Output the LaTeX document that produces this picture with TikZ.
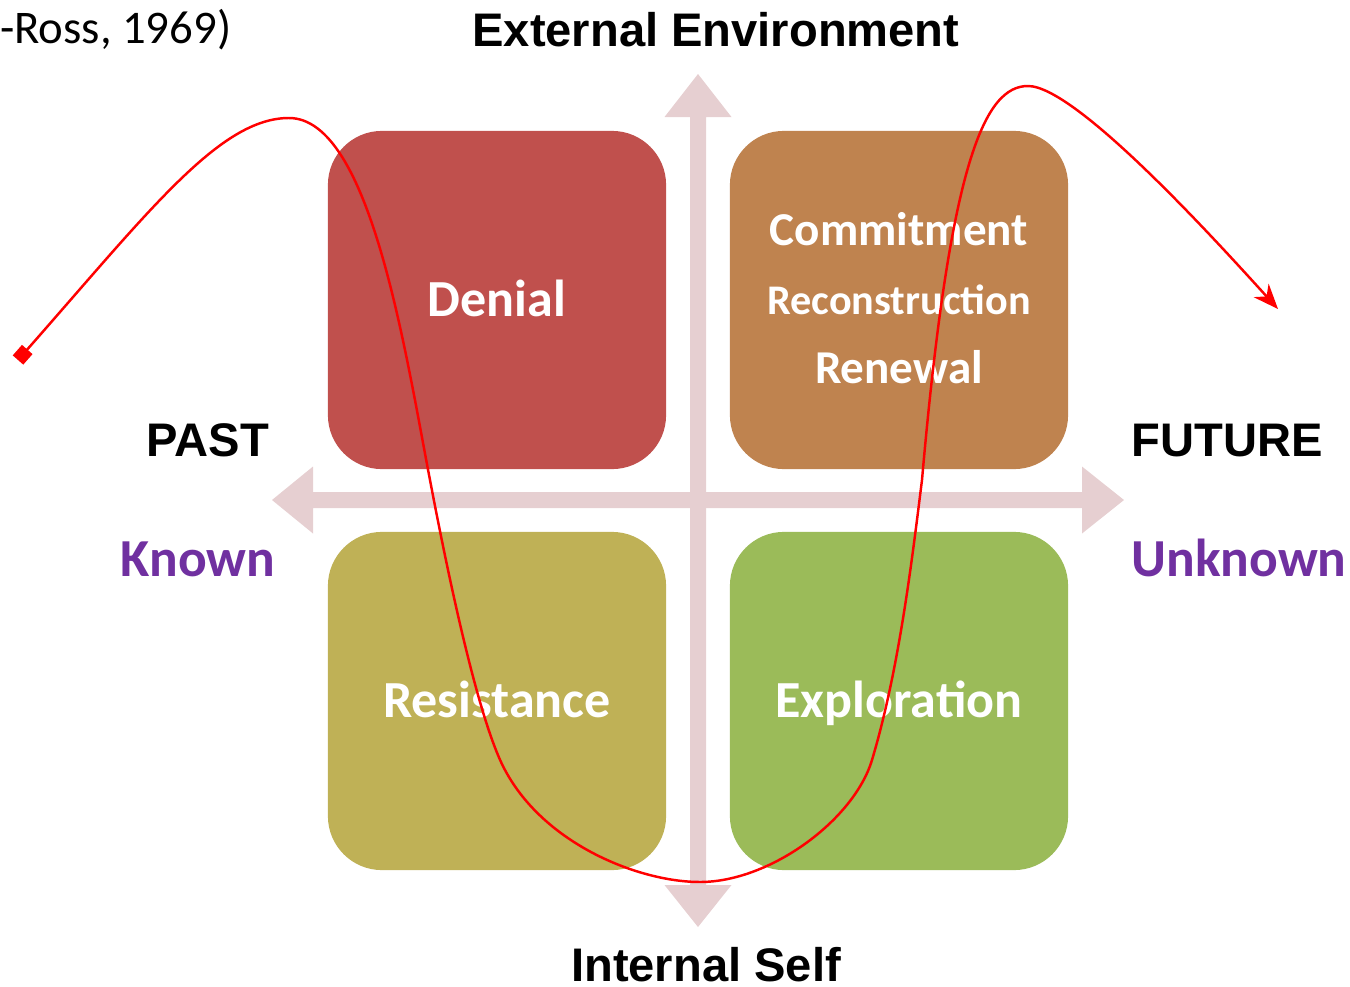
\documentclass[tikz,border=0pt]{standalone}
\usepackage{fontspec}
\setmainfont{Carlito}
\newfontfamily\headfont{Liberation Sans}
\usetikzlibrary{arrows.meta}
\definecolor{denialred}{HTML}{C0504D}
\definecolor{commitbrown}{HTML}{BF834F}
\definecolor{resistolive}{HTML}{BFB156}
\definecolor{explgreen}{HTML}{9BBB59}
\definecolor{axispink}{HTML}{E6CFD1}
\definecolor{knownpurple}{HTML}{7030A0}

\begin{document}
\begin{tikzpicture}[x=0.01cm,y=-0.01cm,
    quad/.style={rounded corners=0.54cm,minimum width=3.38cm,minimum height=3.38cm,inner sep=0pt},
    quadtext/.style={text=white,anchor=base,font=\bfseries\fontsize{14.8}{17}\selectfont},
    headlabel/.style={anchor=base,font=\headfont\bfseries\fontsize{13.4}{16}\selectfont},
    sidelabel/.style={anchor=base,text=knownpurple,font=\bfseries\fontsize{15.2}{18}\selectfont}]
        \useasboundingbox (0,0) rectangle (1350,987);
        \fill[axispink] (698,74) -- (731.5,117) -- (706,117) -- (706,885) -- (731.5,885) -- (698,927)
            -- (664.5,885) -- (690,885) -- (690,117) -- (664.5,117) -- cycle;
        \fill[axispink] (272,500) -- (313,466.5) -- (313,492) -- (1082,492) -- (1082,466.5) -- (1124,500)
            -- (1082,533.5) -- (1082,508) -- (313,508) -- (313,533.5) -- cycle;
        \node[quad,fill=denialred] (denial) at (497,300) {};
        \node[quad,fill=commitbrown] (commit) at (899,300) {};
        \node[quad,fill=resistolive] (resist) at (497,701) {};
        \node[quad,fill=explgreen] (explore) at (899,701) {};
        \node[quadtext] (denialtxt) at (497,316) {Denial};
        \node[quadtext,font=\bfseries\fontsize{13.4}{16}\selectfont] (committxt) at (899,245) {Commitment};
        \node[quadtext,font=\bfseries\fontsize{12}{14}\selectfont] (recontxt) at (899,314) {Reconstruction};
        \node[quadtext,font=\bfseries\fontsize{13.4}{16}\selectfont] (renewtxt) at (899,383) {Renewal};
        \node[quadtext] (resisttxt) at (497,717) {Resistance};
        \node[quadtext] (exploretxt) at (899,717) {Exploration};
        \node[headlabel] (external) at (716,46) {External Environment};
        \node[headlabel] (internal) at (706,981) {Internal Self};
        \node[headlabel] (past) at (208,456) {PAST};
        \node[headlabel] (future) at (1227,456) {FUTURE};
        \node[sidelabel] (known) at (198,576) {Known};
        \node[sidelabel] (unknown) at (1239,576) {Unknown};
        \node[anchor=base east,inner sep=0pt,font=\fontsize{13.3}{16}\selectfont] (cite) at (232,43) {-Ross, 1969)};
        \coordinate (start) at (18,360);
        \coordinate (finish) at (1278,309);
        \draw[red,line width=0.7pt,{Square[length=1.4mm,width=1.4mm]}-{Stealth[length=2.5mm,width=2mm,inset=0.8mm]}]
            (start) .. controls (150,210) and (220,118) .. (289,118)
            .. controls (370,118) and (405,350) .. (430,480)
            .. controls (449,580) and (479,722) .. (505,770)
            .. controls (545,845) and (640,882) .. (700,882)
            .. controls (770,882) and (854,820) .. (872,760)
            .. controls (899,670) and (912,560) .. (922,480)
            .. controls (950,160) and (985,86) .. (1028,86)
            .. controls (1075,86) and (1211,235) .. (finish);
\end{tikzpicture}
\end{document}
